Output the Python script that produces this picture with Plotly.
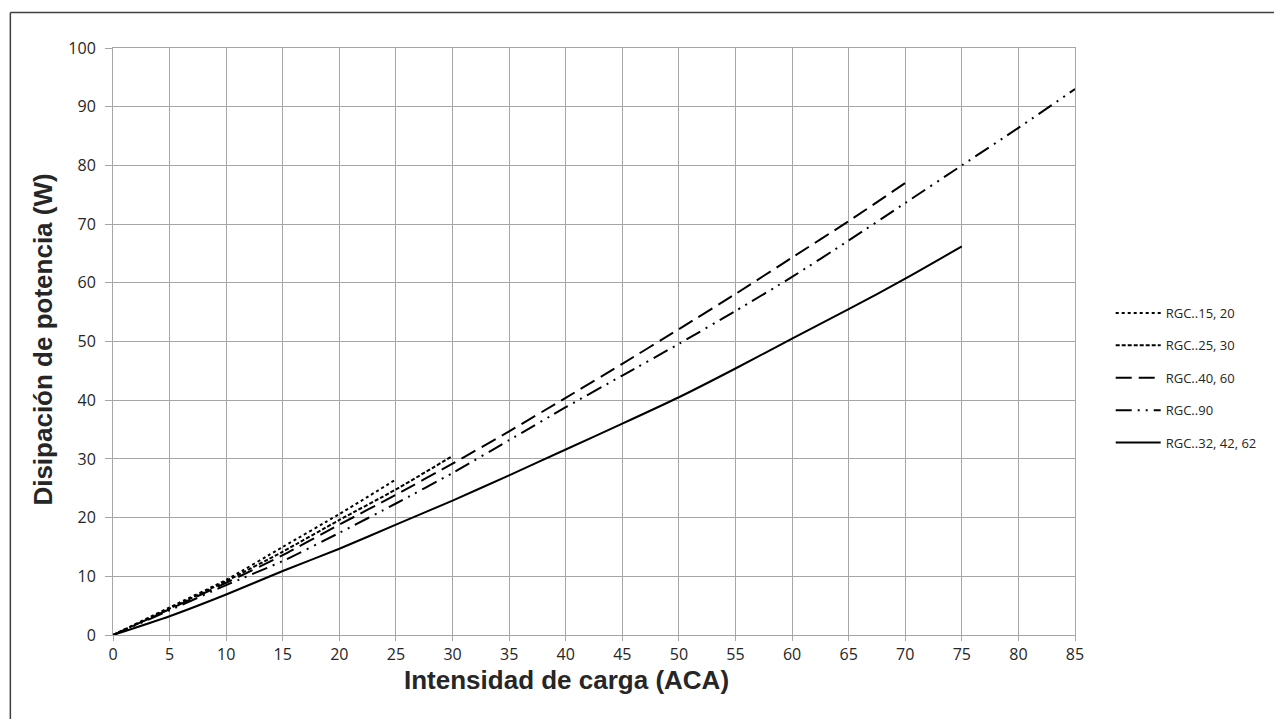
import plotly.graph_objects as go

# Data
x_15_20 = [0, 5, 10, 15, 20, 25]
y_15_20 = [0, 4.7, 9.4, 15.0, 20.6, 26.5]

x_25_30 = [0, 5, 10, 15, 20, 25, 30]
y_25_30 = [0, 4.5, 9.2, 14.2, 19.6, 24.8, 30.5]

x_40_60 = [0, 5, 10, 15, 20, 25, 30, 35, 40, 45, 50, 55, 60, 65, 70]
y_40_60 = [0, 4.4, 8.9, 13.6, 18.8, 23.9, 29.2, 34.7, 40.4, 46.2, 52.1, 58.1, 64.3, 70.5, 77.0]

x_90 = [0, 5, 10, 15, 20, 25, 30, 35, 40, 45, 50, 55, 60, 65, 70, 75, 80, 85]
y_90 = [0, 4.2, 8.5, 12.6, 17.4, 22.4, 27.6, 33.2, 38.8, 44.2, 49.6, 55.2, 61.0, 67.2, 73.6, 80.0, 86.4, 93.0]

x_32_42_62 = [0, 5, 10, 15, 20, 25, 30, 35, 40, 45, 50, 55, 60, 65, 70, 75]
y_32_42_62 = [0, 3.2, 6.9, 10.9, 14.7, 18.8, 22.9, 27.2, 31.6, 36.0, 40.5, 45.4, 50.5, 55.5, 60.7, 66.2]

series_names = ["RGC..15, 20", "RGC..25, 30", "RGC..40, 60", "RGC..90", "RGC..32, 42, 62"]
x_ticks = list(range(0, 90, 5))
y_ticks = list(range(0, 110, 10))
x_title = "Intensidad de carga (ACA)"
y_title = "Disipación de potencia (W)"

series = [
    (x_15_20, y_15_20, "dot"),
    (x_25_30, y_25_30, "4px,2px"),
    (x_40_60, y_40_60, "16px,7px"),
    (x_90, y_90, "16px,6px,2px,6px,2px,6px"),
    (x_32_42_62, y_32_42_62, "solid"),
]

fig = go.Figure()
for i, ((xs, ys, dash), name) in enumerate(zip(series, series_names)):
    fig.add_trace(go.Scatter(
        x=xs, y=ys, mode="lines", name=name, legendgroup=f"g{i}",
        line=dict(color="black", width=2, dash=dash, shape="spline", smoothing=0.6),
    ))

# page has an 8px body margin; figure is sized to fit inside the window
OFF = 8
W, H = 1282 - 2 * OFF, 727 - 2 * OFF
L, T = 113 - OFF, 48 - OFF
R = W - (1083 - OFF)
B = H - (635 - OFF)
pw, ph = W - L - R, H - T - B

def px2paper_x(px):
    return (px - OFF - L) / pw

def px2paper_y(py):
    return (H - B - (py - OFF)) / ph

grid_col = "#a6a6a6"
txt_col = "#262626"
font_tick = dict(family="Open Sans, Liberation Sans, sans-serif", size=16, color=txt_col)
font_title = dict(family="Liberation Sans, Arial, sans-serif", size=26, color=txt_col)

fig.update_layout(
    width=W, height=H,
    margin=dict(l=L, r=R, t=T, b=B),
    paper_bgcolor="white", plot_bgcolor="white",
    showlegend=True,
    legend=dict(
        x=px2paper_x(1119), xanchor="left",
        y=px2paper_y(378), yanchor="middle",
        font=dict(family="Open Sans, Liberation Sans, sans-serif", size=13, color=txt_col),
        tracegroupgap=12.5, itemwidth=45,
        bgcolor="rgba(0,0,0,0)",
    ),
    xaxis=dict(
        range=[0, 85], tickmode="array", tickvals=x_ticks, ticktext=[str(v) for v in x_ticks],
        showgrid=True, gridcolor=grid_col, gridwidth=1,
        showline=True, linecolor=grid_col, linewidth=1, mirror=True,
        ticks="outside", ticklen=5, tickcolor=grid_col,
        tickfont=font_tick, zeroline=False,
    ),
    yaxis=dict(
        range=[0, 100], tickmode="array", tickvals=y_ticks, ticktext=[str(v) for v in y_ticks],
        showgrid=True, gridcolor=grid_col, gridwidth=1,
        showline=True, linecolor=grid_col, linewidth=1, mirror=True,
        ticks="outside", ticklen=7, tickcolor=grid_col, ticklabelstandoff=6,
        tickfont=font_tick, zeroline=False,
    ),
)

fig.add_annotation(text=f"<b>{x_title}</b>", xref="paper", yref="paper",
                   x=px2paper_x(570), y=px2paper_y(680), xanchor="center", yanchor="middle",
                   showarrow=False, font=font_title)
fig.add_annotation(text=f"<b>{y_title}</b>", xref="paper", yref="paper",
                   x=px2paper_x(42), y=px2paper_y(340), xanchor="center", yanchor="middle",
                   textangle=-90, showarrow=False, font=font_title)

# Outer frame (clipped by the picture on the right and bottom)
frame_col = "#404040"
fig.add_shape(type="line", xref="paper", yref="paper",
              x0=px2paper_x(9.5), x1=px2paper_x(1290), y0=px2paper_y(12.5), y1=px2paper_y(12.5),
              line=dict(color=frame_col, width=1.5))
fig.add_shape(type="line", xref="paper", yref="paper",
              x0=px2paper_x(9.5), x1=px2paper_x(9.5), y0=px2paper_y(12.5), y1=px2paper_y(740),
              line=dict(color=frame_col, width=1.5))

fig.write_html("out.html")
